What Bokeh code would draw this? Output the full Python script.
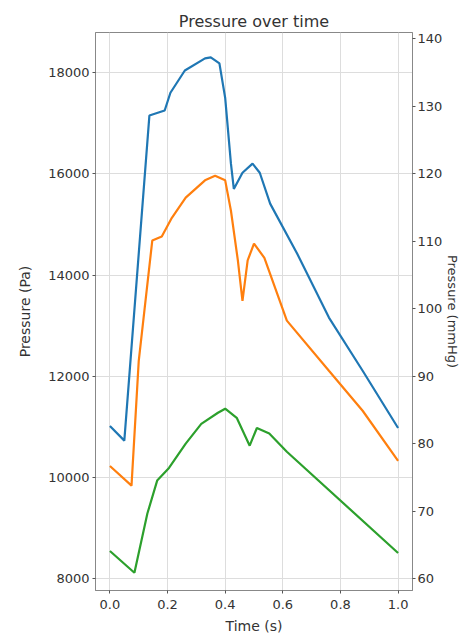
from bokeh.plotting import figure
from bokeh.models import LinearAxis, Range1d, FixedTicker, Title, NumeralTickFormatter
from bokeh.embed import file_html
from bokeh.resources import INLINE

# Time (s)
t_blue = [0.0, 0.05, 0.137, 0.19, 0.21, 0.26, 0.33, 0.35, 0.38, 0.40, 0.42, 0.43, 0.46, 0.495, 0.52, 0.556, 0.65, 0.76, 0.877, 1.0]
p_blue = [11020, 10730, 17150, 17250, 17600, 18040, 18280, 18300, 18180, 17500, 16200, 15700, 16020, 16200, 16020, 15410, 14420, 13160, 12110, 10980]

t_orange = [0.0, 0.075, 0.10, 0.147, 0.18, 0.215, 0.263, 0.33, 0.365, 0.40, 0.42, 0.444, 0.46, 0.478, 0.50, 0.536, 0.614, 0.76, 0.877, 1.0]
p_orange = [10230, 9840, 12300, 14680, 14760, 15130, 15530, 15870, 15960, 15870, 15270, 14290, 13490, 14290, 14620, 14340, 13100, 12110, 11320, 10330]

t_green = [0.0, 0.085, 0.13, 0.164, 0.205, 0.263, 0.317, 0.375, 0.40, 0.44, 0.485, 0.51, 0.553, 0.614, 1.0]
p_green = [8550, 8120, 9290, 9940, 10190, 10670, 11060, 11280, 11360, 11180, 10630, 10980, 10870, 10510, 8510]

x_ticks = [0.0, 0.2, 0.4, 0.6, 0.8, 1.0]
pa_ticks = [8000, 10000, 12000, 14000, 16000, 18000]
mmhg_ticks = [60, 70, 80, 90, 100, 110, 120, 130, 140]

PA_PER_MMHG = 133.322
pa_lo, pa_hi = 7770, 18790

FONT = "DejaVu Sans"
TXT = "#333333"

p = figure(width=463, height=636, output_backend="svg", toolbar_location=None,
           x_range=Range1d(-0.05, 1.05), y_range=Range1d(pa_lo, pa_hi),
           min_border_left=95, min_border_right=40, min_border_top=32, min_border_bottom=46)
p.title = Title(text="Pressure over time", align="center", text_font=FONT,
                text_font_size="16px", text_font_style="normal", text_color=TXT, standoff=3)

p.extra_y_ranges = {"mmhg": Range1d(pa_lo / PA_PER_MMHG, pa_hi / PA_PER_MMHG)}
right = LinearAxis(y_range_name="mmhg", axis_label="Pressure (mmHg)")
p.add_layout(right, "right")

p.xaxis.ticker = FixedTicker(ticks=x_ticks)
p.xaxis.formatter = NumeralTickFormatter(format="0.0")
p.yaxis[0].ticker = FixedTicker(ticks=pa_ticks)
right.ticker = FixedTicker(ticks=mmhg_ticks)
p.xaxis.axis_label = "Time (s)"
p.yaxis[0].axis_label = "Pressure (Pa)"

for ax in [p.xaxis[0], p.yaxis[0], right]:
    ax.major_label_text_font = FONT
    ax.major_label_text_font_size = "13px"
    ax.major_label_text_color = TXT
    ax.axis_label_text_font = FONT
    ax.axis_label_text_font_size = "14px"
    ax.axis_label_text_font_style = "normal"
    ax.axis_label_text_color = TXT
    ax.axis_line_color = "#888888"
    ax.major_tick_line_color = "#555555"
    ax.major_tick_out = 3
    ax.major_tick_in = 0
    ax.minor_tick_line_color = None

p.xaxis[0].major_label_standoff = 6
p.xaxis[0].axis_label_standoff = 6
p.yaxis[0].major_label_standoff = 3
p.yaxis[0].axis_label_standoff = 12
right.major_label_standoff = 2
right.axis_label_standoff = 0
right.axis_label_text_font_size = "13px"

p.xgrid.grid_line_color = "#dddddd"
p.ygrid.grid_line_color = "#dddddd"
p.outline_line_color = "#888888"
p.background_fill_color = "white"

p.line(t_blue, p_blue, line_color="#1f77b4", line_width=2.2)
p.line(t_orange, p_orange, line_color="#ff7f0e", line_width=2.2)
p.line(t_green, p_green, line_color="#2ca02c", line_width=2.2)

open("out.html", "w").write(file_html(p, INLINE))
